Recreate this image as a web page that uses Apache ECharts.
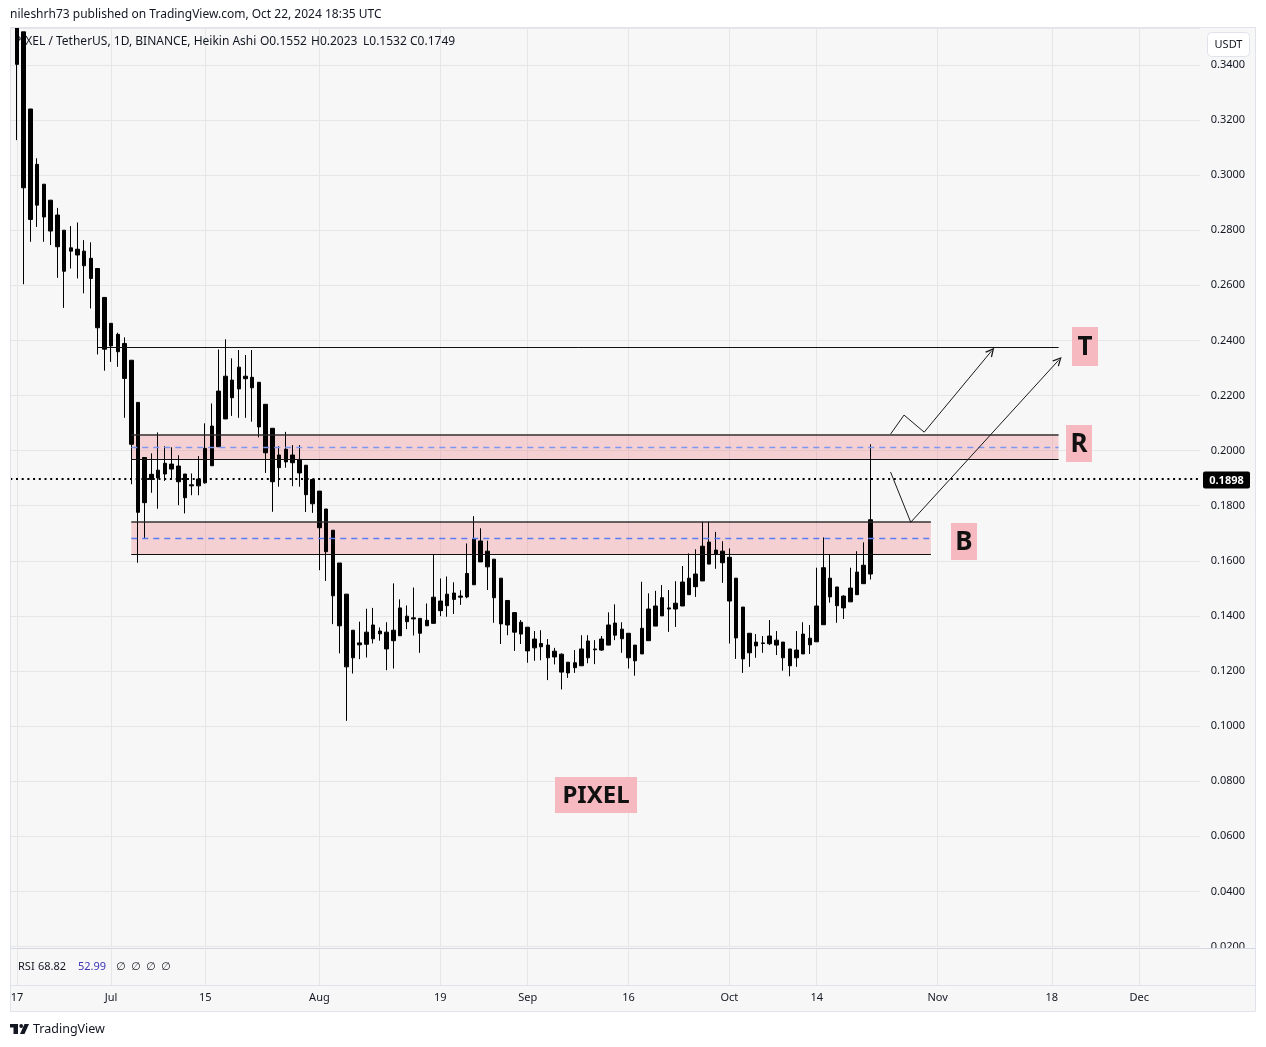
<!DOCTYPE html>
<html><head><meta charset="utf-8">
<script src="https://cdn.jsdelivr.net/npm/echarts@6/dist/echarts.min.js"></script>
<style>html,body{margin:0;padding:0;background:#fff;}#c{width:1266px;height:1047px;}</style>
</head><body><div id="c"></div>
<script>
// ---------- data ----------
const axisStart = [2024, 5, 16];      // first category (UTC y, m, d)
const axisDayCount = 178;             // categories shown on the time axis
const candleStartIndex = 1;           // 2024-06-17
const opens = [0.3638,0.3520,0.3240,0.3039,0.2967,0.2909,0.2855,0.2800,0.2736,0.2731,
0.2724,0.2698,0.2661,0.2556,0.2462,0.2422,0.2389,0.2328,0.2175,0.1975,
0.1914,0.1929,0.1954,0.1951,0.1944,0.1915,0.1876,0.1897,0.1883,0.1945,
0.2014,0.2115,0.2256,0.2224,0.2270,0.2266,0.2248,0.2168,0.2081,0.1984,
0.2005,0.1984,0.1968,0.1947,0.1895,0.1853,0.1788,0.1711,0.1592,0.1479,
0.1348,0.1302,0.1297,0.1317,0.1345,0.1341,0.1310,0.1328,0.1399,0.1393,
0.1391,0.1364,0.1373,0.1419,0.1437,0.1460,0.1472,0.1469,0.1513,0.1672,
0.1635,0.1606,0.1537,0.1456,0.1412,0.1377,0.1359,0.1316,0.1300,0.1294,
0.1272,0.1261,0.1232,0.1212,0.1219,0.1248,0.1280,0.1276,0.1294,0.1330,
0.1352,0.1337,0.1294,0.1262,0.1310,0.1363,0.1400,0.1429,0.1425,0.1436,
0.1477,0.1506,0.1527,0.1588,0.1639,0.1635,0.1613,0.1537,0.1432,0.1337,
0.1305,0.1302,0.1299,0.1312,0.1305,0.1280,0.1248,0.1262,0.1295,0.1306,
0.1368,0.1537,0.1505,0.1429,0.1451,0.1477,0.1517,0.1552];
const closes = [0.3402,0.2954,0.2839,0.2891,0.2848,0.2797,0.2740,0.2651,0.2724,0.2710,
0.2671,0.2625,0.2446,0.2368,0.2380,0.2359,0.2262,0.2023,0.1776,0.1811,
0.1895,0.1901,0.1915,0.1933,0.1887,0.1829,0.1872,0.1872,0.2008,0.2089,
0.2216,0.2270,0.2192,0.2303,0.2261,0.2228,0.2086,0.1992,0.1887,0.1938,
0.1959,0.1956,0.1919,0.1840,0.1807,0.1720,0.1633,0.1473,0.1364,0.1215,
0.1248,0.1295,0.1341,0.1367,0.1335,0.1280,0.1348,0.1429,0.1379,0.1389,
0.1337,0.1384,0.1468,0.1454,0.1479,0.1483,0.1468,0.1554,0.1679,0.1596,
0.1578,0.1466,0.1371,0.1367,0.1341,0.1334,0.1273,0.1284,0.1288,0.1248,
0.1251,0.1196,0.1193,0.1230,0.1280,0.1309,0.1277,0.1316,0.1367,0.1374,
0.1317,0.1248,0.1237,0.1355,0.1425,0.1436,0.1466,0.1425,0.1446,0.1523,
0.1537,0.1552,0.1653,0.1668,0.1624,0.1593,0.1454,0.1320,0.1244,0.1266,
0.1291,0.1300,0.1327,0.1294,0.1248,0.1219,0.1276,0.1334,0.1319,0.1436,
0.1575,0.1469,0.1437,0.1472,0.1501,0.1559,0.1584,0.1749];
const lows = [0.3127,0.2604,0.2758,0.2812,0.2758,0.2746,0.2627,0.2518,0.2661,0.2625,
0.2571,0.2516,0.2349,0.2290,0.2322,0.2304,0.2119,0.1878,0.1593,0.1681,
0.1847,0.1789,0.1890,0.1895,0.1802,0.1772,0.1838,0.1838,0.1880,0.1945,
0.2014,0.2115,0.2126,0.2119,0.2119,0.2105,0.2048,0.1919,0.1778,0.1869,
0.1938,0.1871,0.1869,0.1777,0.1774,0.1566,0.1527,0.1370,0.1264,0.1019,
0.1191,0.1243,0.1249,0.1300,0.1310,0.1203,0.1209,0.1328,0.1352,0.1329,
0.1266,0.1364,0.1373,0.1399,0.1397,0.1407,0.1440,0.1464,0.1513,0.1596,
0.1494,0.1375,0.1298,0.1330,0.1273,0.1298,0.1230,0.1237,0.1239,0.1167,
0.1224,0.1133,0.1175,0.1193,0.1219,0.1228,0.1225,0.1273,0.1294,0.1312,
0.1266,0.1209,0.1183,0.1262,0.1310,0.1363,0.1400,0.1342,0.1360,0.1436,
0.1477,0.1469,0.1527,0.1588,0.1571,0.1520,0.1300,0.1244,0.1193,0.1215,
0.1248,0.1266,0.1294,0.1258,0.1201,0.1181,0.1215,0.1262,0.1262,0.1306,
0.1368,0.1448,0.1375,0.1389,0.1451,0.1477,0.1517,0.1532];
const highs = [0.3700,0.3520,0.3240,0.3061,0.2967,0.2909,0.2881,0.2800,0.2815,0.2828,
0.2764,0.2756,0.2661,0.2556,0.2462,0.2428,0.2411,0.2328,0.2175,0.1975,
0.1990,0.2066,0.2016,0.2012,0.1983,0.1915,0.1917,0.1980,0.2099,0.2171,
0.2367,0.2404,0.2335,0.2365,0.2347,0.2365,0.2248,0.2168,0.2081,0.2016,
0.2068,0.2020,0.2020,0.1947,0.1895,0.1853,0.1788,0.1711,0.1592,0.1479,
0.1348,0.1379,0.1426,0.1429,0.1358,0.1377,0.1518,0.1460,0.1438,0.1503,
0.1391,0.1445,0.1621,0.1536,0.1543,0.1522,0.1493,0.1663,0.1762,0.1718,
0.1673,0.1606,0.1537,0.1456,0.1412,0.1385,0.1359,0.1345,0.1348,0.1316,
0.1284,0.1264,0.1232,0.1276,0.1330,0.1330,0.1312,0.1327,0.1413,0.1442,
0.1377,0.1337,0.1294,0.1524,0.1482,0.1491,0.1512,0.1494,0.1526,0.1581,
0.1627,0.1642,0.1742,0.1742,0.1705,0.1671,0.1645,0.1537,0.1432,0.1337,
0.1334,0.1327,0.1385,0.1345,0.1305,0.1280,0.1345,0.1377,0.1367,0.1575,
0.1685,0.1624,0.1505,0.1475,0.1575,0.1635,0.1667,0.2023];

const tickDates  = ['2024-06-17','2024-07-01','2024-07-15','2024-08-01','2024-08-19','2024-09-01','2024-09-16','2024-10-01','2024-10-14','2024-11-01','2024-11-18','2024-12-01'];
const tickLabels = ['17','Jul','15','Aug','19','Sep','16','Oct','14','Nov','18','Dec'];

const lastPrice = 0.1898;
const targetLevel = 0.2375;
const targetRange = ['2024-06-29','2024-11-19'];
const zoneR = [0.2059, 0.2013, 0.1968];          // top, mid, bottom
const zoneRRange = ['2024-07-04','2024-11-19'];
const zoneB = [0.1742, 0.1682, 0.1622];
const zoneBRange = ['2024-07-04','2024-10-31'];
const pathLow  = [['2024-10-25',0.1922],['2024-10-28',0.1740],['2024-11-19',0.2328]];
const pathHigh = [['2024-10-25',0.2060],['2024-10-27',0.2129],['2024-10-30',0.2067],['2024-11-09',0.2361]];

// ---------- build ----------
const dates = [];
const t0 = Date.UTC(axisStart[0], axisStart[1], axisStart[2]);
for (let i = 0; i < axisDayCount; i++) dates.push(new Date(t0 + i * 86400000).toISOString().slice(0, 10));
const candleData = opens.map((o, i) => [dates[candleStartIndex + i], o, closes[i], lows[i], highs[i]]);

const FONT = '"Noto Sans", "DejaVu Sans", sans-serif';
const TXT = '#131722';
const GRIDC = '#e6e6e8';
const isTick = (i, v) => tickDates.indexOf(v) >= 0;
const labelOf = (v) => { const k = tickDates.indexOf(v); return k >= 0 ? tickLabels[k] : ''; };

const GL = 10.3, GW = 1189.4;

function seg(a, b, style, endSym) {
  return [{coord: a, symbol: 'none', lineStyle: style}, {coord: b, symbol: endSym || 'none', symbolSize: [9, 9]}];
}
const chevron = 'path://M0,10 L5,0 L10,10 L8.4,10 L5,3.2 L1.6,10 Z';
const topStyle = {color: 'rgba(40,40,40,0.7)', width: 2, type: 'solid'};
const botStyle = {color: '#111', width: 1.2, type: 'solid'};
const drawStyle = {color: '#1a1a1a', width: 1, type: 'solid'};

const markLines = [
  seg([targetRange[0], targetLevel], [targetRange[1], targetLevel], {color: '#111', width: 1, type: 'solid'}),
  seg([zoneRRange[0], zoneR[0]], [zoneRRange[1], zoneR[0]], topStyle),
  seg([zoneRRange[0], zoneR[2]], [zoneRRange[1], zoneR[2]], botStyle),
  seg([zoneRRange[0], zoneR[1]], [zoneRRange[1], zoneR[1]], {color: '#7d96f2', width: 1.3, type: [6, 5]}),
  seg([zoneBRange[0], zoneB[0]], [zoneBRange[1], zoneB[0]], topStyle),
  seg([zoneBRange[0], zoneB[2]], [zoneBRange[1], zoneB[2]], botStyle),
  seg([zoneBRange[0], zoneB[1]], [zoneBRange[1], zoneB[1]], {color: '#5a7cf2', width: 1.3, type: [6, 5]}),
  {yAxis: lastPrice, symbol: 'none', lineStyle: {color: '#000', width: 2, type: [2, 3.7]}}
];
for (let i = 0; i < pathLow.length - 1; i++) markLines.push(seg(pathLow[i], pathLow[i + 1], drawStyle, i === pathLow.length - 2 ? chevron : 'none'));
for (let i = 0; i < pathHigh.length - 1; i++) markLines.push(seg(pathHigh[i], pathHigh[i + 1], drawStyle, i === pathHigh.length - 2 ? chevron : 'none'));

function text(x, y, s, o) {
  o = o || {};
  return {type: 'text', x: x, y: y, z: o.z == null ? 10 : o.z, silent: true,
    style: {text: s, fill: o.fill || TXT, fontSize: o.size || 12, fontWeight: o.weight || 'normal', fontFamily: FONT,
      align: o.align || 'left', verticalAlign: 'middle', textAlign: o.align || 'left', textVerticalAlign: 'middle'}};
}
function labelBox(x, y, w, h, s, size) {
  return [
    {type: 'rect', z: 12, silent: true, shape: {x: x, y: y, width: w, height: h}, style: {fill: '#f6b9c0'}},
    text(x + w / 2, y + h / 2 + 1, s, {size: size, weight: 'bold', align: 'center', z: 13, fill: '#111'})
  ];
}

const graphic = [
  {type: 'rect', z: -10, silent: true, shape: {x: 10, y: 27, width: 1246, height: 985}, style: {fill: '#f7f7f7'}},
  // white header strip above the pane (hides the part of the first candles that runs above the pane)
  {type: 'rect', z: 8, silent: true, shape: {x: 0, y: 0, width: 1266, height: 27.5}, style: {fill: '#ffffff'}},
  {type: 'rect', z: 6, silent: true, shape: {x: 1201, y: 949, width: 54, height: 36}, style: {fill: '#f7f7f7'}},
  {type: 'line', z: 7, silent: true, shape: {x1: 10, y1: 948.5, x2: 1256, y2: 948.5}, style: {stroke: '#d5d8e2', lineWidth: 1}},
  {type: 'line', z: 7, silent: true, shape: {x1: 10, y1: 985.5, x2: 1256, y2: 985.5}, style: {stroke: '#e0e3eb', lineWidth: 1}},
  {type: 'rect', z: 20, silent: true, shape: {x: 10.5, y: 27.5, width: 1245, height: 984}, style: {fill: null, stroke: '#e0e3eb', lineWidth: 1}},
  text(10, 15, 'nileshrh73 published on TradingView.com, Oct 22, 2024 18:35 UTC', {size: 12}),
  text(14, 42, 'PIXEL / TetherUS, 1D, BINANCE, Heikin Ashi', {size: 12, z: 1}),
  text(260, 42, 'O0.1552', {size: 12, z: 1}),
  text(311, 42, 'H0.2023', {size: 12, z: 1}),
  text(363, 42, 'L0.1532', {size: 12, z: 1}),
  text(410, 42, 'C0.1749', {size: 12, z: 1}),
  text(18, 966.5, 'RSI', {size: 11}),
  text(38, 966.5, '68.82', {size: 11}),
  text(78, 966.5, '52.99', {size: 11, fill: '#3b35b5'}),
  text(116, 966.5, '\u2205', {size: 11}),
  text(131, 966.5, '\u2205', {size: 11}),
  text(146, 966.5, '\u2205', {size: 11}),
  text(161, 966.5, '\u2205', {size: 11}),
  {type: 'rect', z: 21, silent: true, shape: {x: 1207.5, y: 32.5, width: 42, height: 24, r: 4}, style: {fill: '#ffffff', stroke: '#e0e3eb', lineWidth: 1}},
  text(1228.5, 45, 'USDT', {size: 11, align: 'center', z: 22}),
  {type: 'rect', z: 21, silent: true, shape: {x: 1203, y: 471.5, width: 47, height: 17, r: 2}, style: {fill: '#000'}},
  text(1226.5, 480.5, '0.1898', {size: 11, weight: 'bold', align: 'center', z: 22, fill: '#fff'}),
  // TradingView logo
  {type: 'rect', z: 10, silent: true, shape: {x: 10, y: 1024, width: 8, height: 3.5}, style: {fill: TXT}},
  {type: 'rect', z: 10, silent: true, shape: {x: 13.5, y: 1024, width: 4.5, height: 10}, style: {fill: TXT}},
  {type: 'circle', z: 10, silent: true, shape: {cx: 21.2, cy: 1026, r: 1.9}, style: {fill: TXT}},
  {type: 'polygon', z: 10, silent: true, shape: {points: [[24.5, 1024], [29, 1024], [24.5, 1034], [20, 1034]]}, style: {fill: TXT}},
  text(33, 1029.5, 'TradingView', {size: 12.5})
].concat(labelBox(1072, 327, 26, 39, 'T', 26))
 .concat(labelBox(1066, 425, 26, 37, 'R', 26))
 .concat(labelBox(951, 523, 26, 37, 'B', 26))
 .concat(labelBox(555, 777, 82, 36, 'PIXEL', 24));

const option = {
  animation: false,
  backgroundColor: '#ffffff',
  textStyle: {fontFamily: FONT},
  grid: [
    {left: GL, width: GW, top: 28, height: 918.5},
    {left: GL, width: GW, top: 948, height: 37}
  ],
  xAxis: [
    {type: 'category', gridIndex: 0, data: dates, boundaryGap: false,
      axisLine: {show: false}, axisTick: {show: false}, axisLabel: {show: false},
      splitLine: {show: true, interval: isTick, lineStyle: {color: GRIDC, width: 1}}},
    {type: 'category', gridIndex: 1, data: dates, boundaryGap: false,
      axisLine: {show: false}, axisTick: {show: false},
      axisLabel: {show: true, interval: isTick, formatter: labelOf, margin: 7, color: TXT, fontSize: 11, fontFamily: FONT},
      splitLine: {show: true, interval: isTick, lineStyle: {color: GRIDC, width: 1}}}
  ],
  yAxis: [
    {type: 'value', gridIndex: 0, position: 'right', min: 0.02, max: 0.3534, interval: 0.02, scale: true,
      axisLine: {show: false}, axisTick: {show: false},
      axisLabel: {margin: 11, color: TXT, fontSize: 11, fontFamily: FONT, showMaxLabel: false, formatter: v => v.toFixed(4)},
      splitLine: {show: true, lineStyle: {color: GRIDC, width: 1}}},
    {type: 'value', gridIndex: 1, min: 0, max: 100, show: false, splitLine: {show: false}}
  ],
  series: [
    {
      type: 'candlestick', name: 'PIXEL', xAxisIndex: 0, yAxisIndex: 0, z: 3,
      data: candleData, encode: {x: 0, y: [1, 2, 3, 4]},
      barWidth: 4, clip: true, silent: true,
      itemStyle: {color: '#000', color0: '#000', borderColor: '#000', borderColor0: '#000', borderColorDoji: '#000', borderWidth: 1},
      markArea: {silent: true, z: 1,
        itemStyle: {color: 'rgba(242,54,69,0.2)', borderWidth: 0},
        data: [
          [{coord: [zoneRRange[0], zoneR[0]]}, {coord: [zoneRRange[1], zoneR[2]]}],
          [{coord: [zoneBRange[0], zoneB[0]]}, {coord: [zoneBRange[1], zoneB[2]]}]
        ]},
      markLine: {silent: true, symbol: ['none', 'none'], label: {show: false}, animation: false, precision: 4,
        data: markLines}
    },
    {type: 'line', xAxisIndex: 1, yAxisIndex: 1, data: [], silent: true}
  ],
  graphic: graphic
};

const chart = echarts.init(document.getElementById('c'), null, {renderer: 'canvas', width: 1266, height: 1047});
chart.setOption(option);
</script>
</body></html>
